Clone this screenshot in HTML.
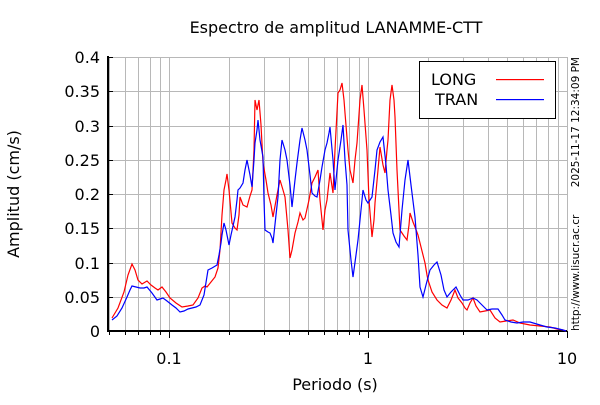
<!DOCTYPE html>
<html><head><meta charset="utf-8"><style>html,body{margin:0;padding:0;background:#fff}</style></head>
<body>
<svg width="600" height="400" xmlns="http://www.w3.org/2000/svg" font-family="DejaVu Sans, Liberation Sans, sans-serif">
<rect width="600" height="400" fill="#fff"/>
<g id="grid" stroke="#b8b8b8" stroke-width="1" shape-rendering="crispEdges"></g>
<g stroke="#000" stroke-width="2" shape-rendering="crispEdges">
<line x1="108" y1="56" x2="108" y2="332"/>
<line x1="107" y1="331" x2="567" y2="331"/>
</g>
<g id="ticks" stroke="#000" stroke-width="1" shape-rendering="crispEdges"></g>
<polyline fill="none" stroke="#ff0000" stroke-width="1.2" points="112,318 118,308 124,292 128,275 132,264 135,270 138,280 142,284 147,281 151,285 155,288 158,290 162,287 166,292 170,298 176,303 182,307 188,306 193,305 198,298 202,288 205,286 207,287 211,282 215,277 218,268 220,250 222,215 224,190 226,180 227,174 229,190 232,223 235,228 237,230 239,215 240,197 243,205 247,207 250,196 252,190 254,150 255,100 257,110 259,100 261,125 263,163 266,180 268,193 271,205 273,217 277,195 280,180 283,190 285,197 288,230 290,258 292,250 295,233 298,222 300,213 303,220 305,218 309,200 312,183 315,177 318,170 320,200 323,230 325,210 327,200 330,173 333,193 335,150 338,93 340,90 342,83 344,100 345,113 348,150 350,170 353,183 355,160 357,143 360,100 362,85 364,110 367,150 369,200 372,237 374,220 375,203 378,170 380,147 383,165 385,173 387,150 388,140 390,100 392,85 394,100 395,117 397,170 400,230 404,236 407,240 409,225 410,213 413,222 415,227 418,235 420,243 423,255 425,263 427,275 428,280 432,292 437,300 442,305 447,308 451,300 455,290 458,298 462,303 465,308 467,310 470,303 473,298 476,306 480,312 485,311 490,310 495,318 500,322 506,321 513,320 520,323 530,325 540,326 550,327 557,329 563,330 566,331"/>
<polyline fill="none" stroke="#0000ff" stroke-width="1.2" points="112,320 117,316 122,308 127,297 130,290 132,286 136,287 140,288 144,288 147,287 152,293 157,300 160,299 163,298 167,301 172,305 176,308 180,312 184,311 188,309 192,308 196,307 200,305 204,295 208,270 212,268 217,265 219,255 221,243 222,235 224,223 226,230 229,245 231,235 235,217 237,200 238,190 240,188 243,183 245,170 247,160 250,175 252,187 254,160 255,143 257,130 258,120 260,140 263,157 264,200 265,230 268,232 270,233 272,238 273,243 276,215 278,197 280,160 282,140 285,150 287,160 290,185 292,207 295,180 297,163 300,140 302,128 305,140 307,150 310,175 312,193 315,196 317,197 320,180 322,167 325,150 327,143 329,133 330,127 333,160 335,190 337,170 338,160 341,140 343,125 345,160 347,185 348,230 351,260 353,277 356,255 358,240 361,210 363,190 366,200 368,203 370,200 372,197 375,170 377,150 380,142 383,137 386,165 388,190 391,215 393,233 396,242 399,247 402,210 405,180 408,160 411,185 415,217 418,255 420,287 423,297 426,285 430,270 434,265 437,262 441,275 444,290 447,297 451,292 456,287 460,295 463,300 468,300 473,298 477,300 480,303 484,307 487,310 492,309 498,309 502,315 505,320 511,322 517,323 523,322 530,322 540,325 547,327 555,328 563,330 566,331"/>
<g font-size="16" fill="#000">
<text x="336" y="33" text-anchor="middle">Espectro de amplitud LANAMME-CTT</text>
<text x="335" y="390" text-anchor="middle">Periodo (s)</text>
<text transform="translate(19,194) rotate(-90)" text-anchor="middle">Amplitud (cm/s)</text>
</g>
<g font-size="16" fill="#000" text-anchor="end" id="ylab"></g>
<g font-size="16" fill="#000" text-anchor="middle">
<text x="169" y="364">0.1</text><text x="368" y="364">1</text><text x="567" y="364">10</text>
</g>
<g font-size="10.5" fill="#000">
<text transform="translate(579,57) rotate(-90)" text-anchor="end">2025-11-17 12:34:09 PM</text>
<text transform="translate(579,331) rotate(-90)" text-anchor="start">http://www.lisucr.ac.cr</text>
</g>
<rect x="419.5" y="61.5" width="136" height="57" fill="#fff" stroke="#000" stroke-width="1"/>
<g font-size="16" fill="#000"><text x="431" y="85">LONG</text><text x="435" y="105">TRAN</text></g>
<rect x="496" y="79" width="48" height="1.2" fill="#ff0000"/>
<rect x="496" y="99" width="48" height="1.2" fill="#0000ff"/>
<script>
var g=document.getElementById('grid'),t=document.getElementById('ticks'),yl=document.getElementById('ylab');
function L(p,a){var e=document.createElementNS('http://www.w3.org/2000/svg','line');for(var k in a)e.setAttribute(k,a[k]);p.appendChild(e);}
function X(v){return 169+199*Math.log10(v/0.1);}
var vs=[];[0.01,0.1,1].forEach(function(d){for(var i=1;i<10;i++)vs.push(i*d);});vs.push(10);
vs.forEach(function(v){if(v<0.0499)return;var x=Math.round(X(v))+0.5;var maj=Math.abs(Math.log10(v)-Math.round(Math.log10(v)))<1e-6;
L(g,{x1:x,y1:57,x2:x,y2:331});L(t,{x1:x,y1:331,x2:x,y2:maj?338:335});});
var labs=['0','0.05','0.1','0.15','0.2','0.25','0.3','0.35','0.4'];
for(var i=0;i<=8;i++){var y=Math.round(331-i*34.25)+0.5;if(i>0)L(g,{x1:108,y1:y,x2:567,y2:y});L(t,{x1:108,y1:y,x2:113,y2:y});
var e=document.createElementNS('http://www.w3.org/2000/svg','text');e.setAttribute('x',100);e.setAttribute('y',y+5.5);e.textContent=labs[i];yl.appendChild(e);}
</script>
</svg>
</body></html>
